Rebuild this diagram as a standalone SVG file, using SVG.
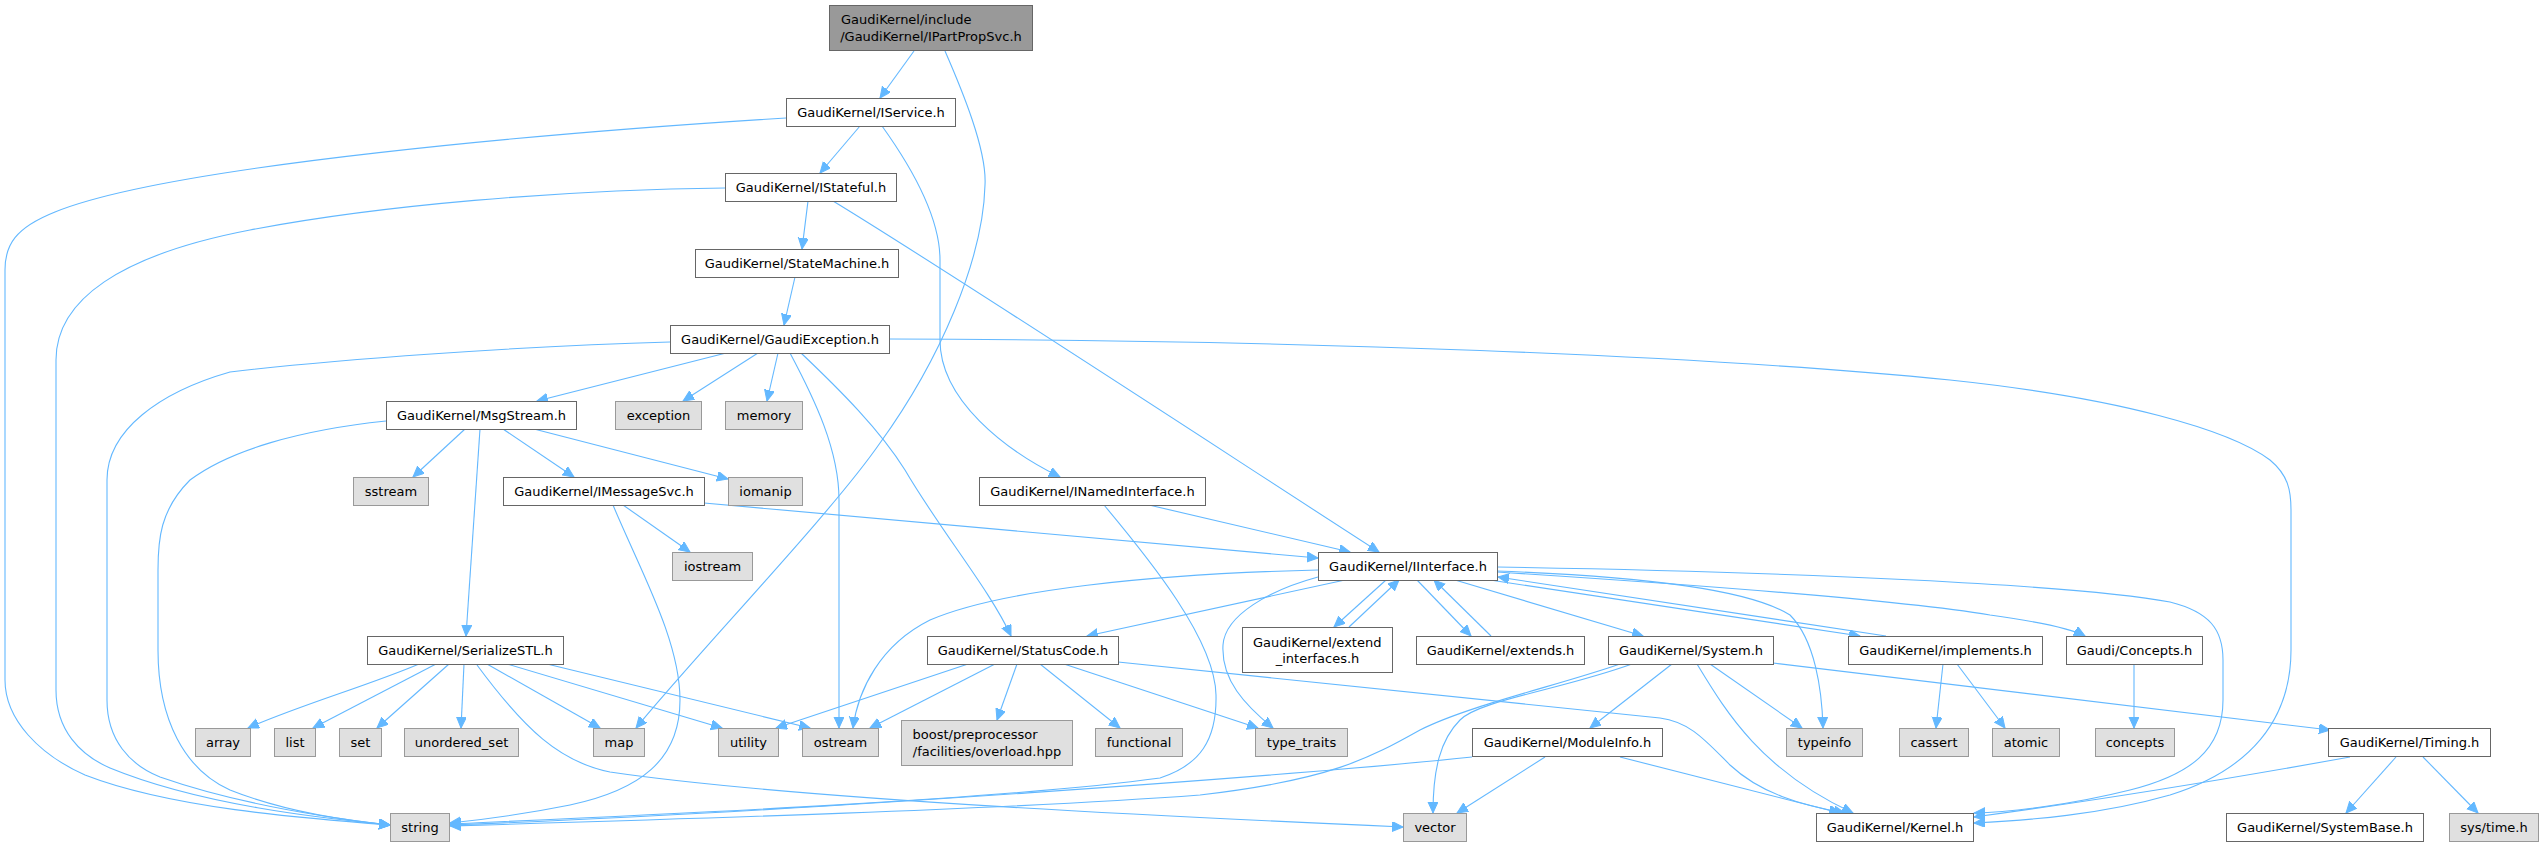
<svg xmlns="http://www.w3.org/2000/svg" width="2543" height="846" viewBox="0 0 2543 846">
<style>
text{font-family:"DejaVu Sans","Liberation Sans",sans-serif;font-size:13px;fill:#000}
.c{text-anchor:middle}
.n rect{fill:#fff;stroke:#666;stroke-width:1}
.g rect{fill:#e0e0e0;stroke:#999;stroke-width:1}
.r rect{fill:#999;stroke:#666;stroke-width:1}
#edges path{fill:none;stroke:#63b8ff;stroke-width:1.1;marker-end:url(#ah)}
</style>
<defs>
<marker id="ah" markerUnits="userSpaceOnUse" markerWidth="12" markerHeight="12" refX="11" refY="5" orient="auto">
<path d="M0,0 L11,5 L0,10 z" fill="#63b8ff" stroke="#63b8ff" stroke-width="1"/>
</marker>
</defs>
<rect width="2543" height="846" fill="#fff"/>
<g id="edges">
<path d="M914,51 L880,98"/>
<path d="M945,51 C962,90 987,150 985,185 C983,260 940,360 880,443 C830,515 700,650 636,728"/>
<path d="M786,118 C560,132 170,165 55,212 C15,228 5,245 5,270 L5,680 C5,720 40,755 85,775 C170,808 300,818 390,825"/>
<path d="M860,126 L820,173"/>
<path d="M882,126 C910,165 940,215 940,260 L940,340 C940,400 1005,450 1060,477"/>
<path d="M725,188 C560,190 380,205 250,230 C120,255 56,300 56,360 L56,690 C56,730 80,755 110,768 C200,805 320,818 390,825"/>
<path d="M808,201 L802,249"/>
<path d="M833,201 C950,272 1270,482 1379,552"/>
<path d="M795,277 L784,325"/>
<path d="M670,342 C520,346 330,360 230,372 C160,392 107,430 107,480 L107,700 C107,740 130,765 160,777 C240,805 330,818 390,825"/>
<path d="M726,353 L537,401"/>
<path d="M758,353 L683,401"/>
<path d="M778,353 L767,401"/>
<path d="M790,353 C815,400 839,450 839,500 L839,728"/>
<path d="M801,353 C840,390 880,430 905,470 C940,530 990,590 1011,636"/>
<path d="M889,339 C1300,340 1700,355 1950,380 C2120,398 2230,430 2270,460 C2288,475 2291,490 2291,510 L2291,650 C2291,720 2250,770 2170,795 C2100,815 2030,820 1974,823"/>
<path d="M386,421 C300,430 230,450 190,480 C160,510 158,540 158,570 L158,650 C158,720 185,770 230,790 C280,810 340,820 390,825"/>
<path d="M465,429 L413,477"/>
<path d="M480,429 L466,636"/>
<path d="M503,429 L574,477"/>
<path d="M534,429 L728,479"/>
<path d="M623,505 L690,552"/>
<path d="M613,505 C640,570 680,640 680,700 C680,760 640,790 570,805 C520,815 480,820 450,823"/>
<path d="M704,503 L1318,558"/>
<path d="M1149,505 L1350,552"/>
<path d="M1104,505 C1150,560 1215,640 1216,695 C1217,740 1200,765 1160,778 C1000,800 650,815 450,824"/>
<path d="M1318,570 C1150,574 1000,590 930,620 C880,645 858,690 853,728"/>
<path d="M1345,580 L1087,636"/>
<path d="M1386,580 L1334,627"/>
<path d="M1349,627 L1399,580"/>
<path d="M1417,580 L1471,636"/>
<path d="M1491,636 L1434,580"/>
<path d="M1455,580 L1643,636"/>
<path d="M1490,580 L1860,636"/>
<path d="M1886,636 L1498,577"/>
<path d="M1497,572 C1700,585 1900,600 1990,615 C2040,622 2070,628 2085,636"/>
<path d="M1497,567 C1800,572 2080,585 2170,602 C2210,612 2223,630 2223,660 L2223,700 C2223,750 2190,775 2130,790 C2070,805 2010,812 1974,813"/>
<path d="M1497,571 C1650,577 1750,590 1790,615 C1815,640 1822,690 1823,728"/>
<path d="M1318,577 C1270,590 1225,615 1223,645 C1221,680 1245,705 1273,728"/>
<path d="M1943,664 L1936,728"/>
<path d="M1957,664 L2005,728"/>
<path d="M2134,664 L2134,728"/>
<path d="M419,664 C370,685 300,705 248,728"/>
<path d="M436,664 L313,728"/>
<path d="M449,664 L377,728"/>
<path d="M464,664 L461,728"/>
<path d="M487,664 L600,728"/>
<path d="M507,664 L722,728"/>
<path d="M547,664 L810,728"/>
<path d="M477,665 C525,730 560,762 610,772 C800,800 1200,818 1403,827"/>
<path d="M968,664 L776,728"/>
<path d="M995,664 L870,728"/>
<path d="M1017,664 L997,720"/>
<path d="M1040,664 L1120,728"/>
<path d="M1064,664 L1258,728"/>
<path d="M1118,662 L1660,718 C1690,722 1705,740 1730,765 C1760,793 1800,805 1845,813"/>
<path d="M1620,664 C1560,685 1470,705 1420,730 C1370,758 1330,780 1200,795 C1000,810 650,820 450,826"/>
<path d="M1632,664 C1560,690 1480,700 1460,720 C1440,740 1433,770 1433,813"/>
<path d="M1672,664 L1590,728"/>
<path d="M1710,664 L1802,728"/>
<path d="M1697,664 C1725,710 1760,770 1853,813"/>
<path d="M1773,663 L2330,730"/>
<path d="M1472,757 C1300,775 800,812 450,825"/>
<path d="M1545,757 L1457,813"/>
<path d="M1620,757 L1840,813"/>
<path d="M2350,757 C2250,775 2100,800 1974,817"/>
<path d="M2396,757 L2346,813"/>
<path d="M2423,757 L2478,813"/>
</g>
<g id="node_root" class="r"><rect x="829.5" y="5.5" width="203" height="45"/><text x="841" y="24">GaudiKernel/include</text><text class="c" x="931" y="40.5">/GaudiKernel/IPartPropSvc.h</text></g>
<g id="node_IService" class="n"><rect x="786.5" y="98.5" width="169" height="28"/><text class="c" x="871" y="117">GaudiKernel/IService.h</text></g>
<g id="node_IStateful" class="n"><rect x="725.5" y="173.5" width="171" height="28"/><text class="c" x="811" y="192">GaudiKernel/IStateful.h</text></g>
<g id="node_StateMachine" class="n"><rect x="695.5" y="249.5" width="203" height="28"/><text class="c" x="797" y="268">GaudiKernel/StateMachine.h</text></g>
<g id="node_GaudiException" class="n"><rect x="670.5" y="325.5" width="219" height="28"/><text class="c" x="780" y="344">GaudiKernel/GaudiException.h</text></g>
<g id="node_MsgStream" class="n"><rect x="386.5" y="401.5" width="190" height="28"/><text class="c" x="481.5" y="420">GaudiKernel/MsgStream.h</text></g>
<g id="node_exception" class="g"><rect x="615.5" y="401.5" width="86" height="28"/><text class="c" x="658.5" y="420">exception</text></g>
<g id="node_memory" class="g"><rect x="725.5" y="401.5" width="77" height="28"/><text class="c" x="764" y="420">memory</text></g>
<g id="node_sstream" class="g"><rect x="353.5" y="477.5" width="75" height="28"/><text class="c" x="391" y="496">sstream</text></g>
<g id="node_IMessageSvc" class="n"><rect x="503.5" y="477.5" width="201" height="28"/><text class="c" x="604" y="496">GaudiKernel/IMessageSvc.h</text></g>
<g id="node_iomanip" class="g"><rect x="728.5" y="477.5" width="74" height="28"/><text class="c" x="765.5" y="496">iomanip</text></g>
<g id="node_INamedInterface" class="n"><rect x="979.5" y="477.5" width="226" height="28"/><text class="c" x="1092.5" y="496">GaudiKernel/INamedInterface.h</text></g>
<g id="node_iostream" class="g"><rect x="672.5" y="552.5" width="80" height="28"/><text class="c" x="712.5" y="571">iostream</text></g>
<g id="node_IInterface" class="n"><rect x="1318.5" y="552.5" width="179" height="28"/><text class="c" x="1408" y="571">GaudiKernel/IInterface.h</text></g>
<g id="node_SerializeSTL" class="n"><rect x="367.5" y="636.5" width="196" height="28"/><text class="c" x="465.5" y="655">GaudiKernel/SerializeSTL.h</text></g>
<g id="node_StatusCode" class="n"><rect x="927.5" y="636.5" width="191" height="28"/><text class="c" x="1023" y="655">GaudiKernel/StatusCode.h</text></g>
<g id="node_extend_interfaces" class="n"><rect x="1242.5" y="627.5" width="150" height="45"/><text x="1253" y="646.5">GaudiKernel/extend</text><text class="c" x="1317.5" y="663">_interfaces.h</text></g>
<g id="node_extends" class="n"><rect x="1416.5" y="636.5" width="168" height="28"/><text class="c" x="1500.5" y="655">GaudiKernel/extends.h</text></g>
<g id="node_System" class="n"><rect x="1608.5" y="636.5" width="165" height="28"/><text class="c" x="1691" y="655">GaudiKernel/System.h</text></g>
<g id="node_implements" class="n"><rect x="1848.5" y="636.5" width="194" height="28"/><text class="c" x="1945.5" y="655">GaudiKernel/implements.h</text></g>
<g id="node_Concepts" class="n"><rect x="2066.5" y="636.5" width="136" height="28"/><text class="c" x="2134.5" y="655">Gaudi/Concepts.h</text></g>
<g id="node_array" class="g"><rect x="195.5" y="728.5" width="55" height="28"/><text class="c" x="223" y="747">array</text></g>
<g id="node_list" class="g"><rect x="274.5" y="728.5" width="41" height="28"/><text class="c" x="295" y="747">list</text></g>
<g id="node_set" class="g"><rect x="339.5" y="728.5" width="42" height="28"/><text class="c" x="360.5" y="747">set</text></g>
<g id="node_unordered_set" class="g"><rect x="404.5" y="728.5" width="114" height="28"/><text class="c" x="461.5" y="747">unordered_set</text></g>
<g id="node_map" class="g"><rect x="593.5" y="728.5" width="51" height="28"/><text class="c" x="619" y="747">map</text></g>
<g id="node_utility" class="g"><rect x="718.5" y="728.5" width="60" height="28"/><text class="c" x="748.5" y="747">utility</text></g>
<g id="node_ostream" class="g"><rect x="802.5" y="728.5" width="76" height="28"/><text class="c" x="840.5" y="747">ostream</text></g>
<g id="node_boost" class="g"><rect x="901.5" y="720.5" width="171" height="45"/><text x="912.5" y="739">boost/preprocessor</text><text class="c" x="987" y="755.5">/facilities/overload.hpp</text></g>
<g id="node_functional" class="g"><rect x="1095.5" y="728.5" width="87" height="28"/><text class="c" x="1139" y="747">functional</text></g>
<g id="node_type_traits" class="g"><rect x="1255.5" y="728.5" width="92" height="28"/><text class="c" x="1301.5" y="747">type_traits</text></g>
<g id="node_ModuleInfo" class="n"><rect x="1472.5" y="728.5" width="190" height="28"/><text class="c" x="1567.5" y="747">GaudiKernel/ModuleInfo.h</text></g>
<g id="node_typeinfo" class="g"><rect x="1786.5" y="728.5" width="76" height="28"/><text class="c" x="1824.5" y="747">typeinfo</text></g>
<g id="node_cassert" class="g"><rect x="1899.5" y="728.5" width="69" height="28"/><text class="c" x="1934" y="747">cassert</text></g>
<g id="node_atomic" class="g"><rect x="1992.5" y="728.5" width="67" height="28"/><text class="c" x="2026" y="747">atomic</text></g>
<g id="node_concepts" class="g"><rect x="2095.5" y="728.5" width="79" height="28"/><text class="c" x="2135" y="747">concepts</text></g>
<g id="node_Timing" class="n"><rect x="2328.5" y="728.5" width="162" height="28"/><text class="c" x="2409.5" y="747">GaudiKernel/Timing.h</text></g>
<g id="node_string" class="g"><rect x="390.5" y="813.5" width="59" height="28"/><text class="c" x="420" y="832">string</text></g>
<g id="node_vector" class="g"><rect x="1403.5" y="813.5" width="63" height="28"/><text class="c" x="1435" y="832">vector</text></g>
<g id="node_Kernel" class="n"><rect x="1816.5" y="813.5" width="157" height="28"/><text class="c" x="1895" y="832">GaudiKernel/Kernel.h</text></g>
<g id="node_SystemBase" class="n"><rect x="2226.5" y="813.5" width="197" height="28"/><text class="c" x="2325" y="832">GaudiKernel/SystemBase.h</text></g>
<g id="node_systime" class="g"><rect x="2449.5" y="813.5" width="89" height="28"/><text class="c" x="2494" y="832">sys/time.h</text></g>
</svg>
